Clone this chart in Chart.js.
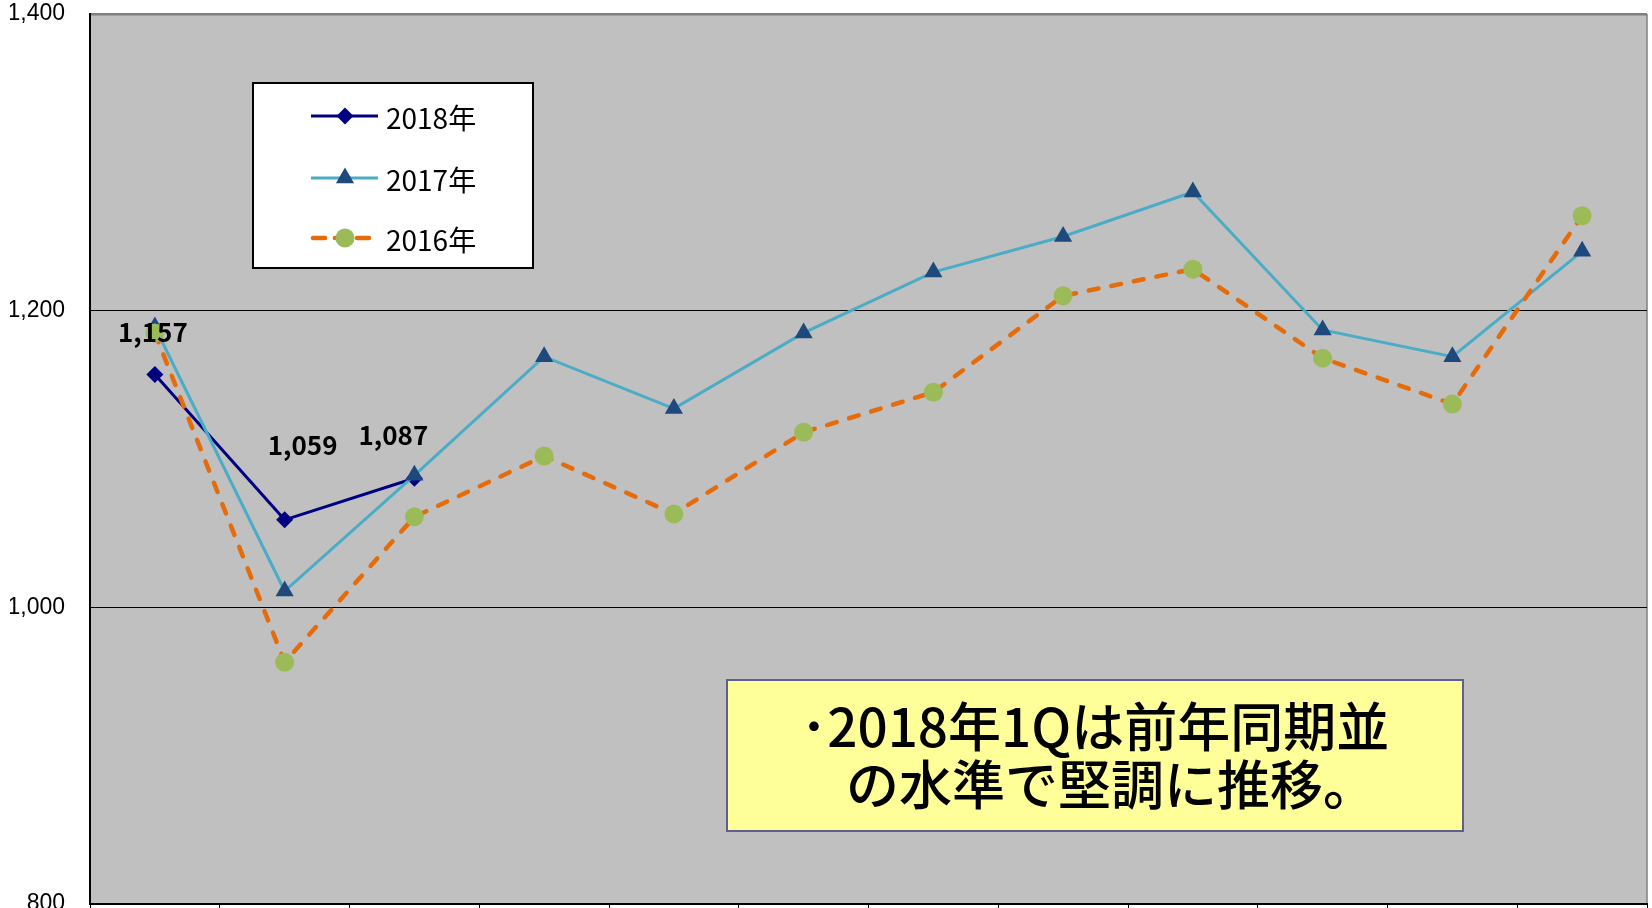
<!DOCTYPE html>
<html lang="ja">
<head>
<meta charset="utf-8">
<title>2016-2018年 推移</title>
<script src="https://cdn.jsdelivr.net/npm/chart.js@4.4.1/dist/chart.umd.min.js"></script>
<style>
  html, body { margin: 0; padding: 0; background: #fff; }
  #wrap { width: 1652px; height: 908px; position: relative; }
</style>
</head>
<body>
<div id="wrap"><canvas id="chart"></canvas></div>
<script>
// categories (x labels are cut off in the picture, so they stay hidden)
const months = ['1月', '2月', '3月', '4月', '5月', '6月', '7月', '8月', '9月', '10月', '11月', '12月'];

// series values
const y2018 = [1157, 1059, 1087, null, null, null, null, null, null, null, null, null];
const y2017 = [1189, 1011, 1089, 1169, 1134, 1185, 1226, 1250, 1280, 1187, 1169, 1240];
const y2016 = [1185, 963, 1061, 1102, 1063, 1118, 1145, 1210, 1228, 1168, 1137, 1264];

// y axis
const yTicks = [800, 1000, 1200, 1400];

const noteLines = ['･2018年1Qは前年同期並', 'の水準で堅調に推移。'];

const jpFont = '"Noto Sans CJK JP", "Noto Sans", sans-serif';

function fmt(v) {
    return Number(v).toLocaleString('en-US');
}

function drawMarker(ctx, style, x, y, r, color) {
    ctx.fillStyle = color;
    ctx.beginPath();
    if (style === 'rectRot') {
        ctx.moveTo(x, y - r);
        ctx.lineTo(x + r, y);
        ctx.lineTo(x, y + r);
        ctx.lineTo(x - r, y);
    } else if (style === 'triangle') {
        ctx.moveTo(x, y - r);
        ctx.lineTo(x + r * Math.sin(Math.PI / 3), y + r / 2);
        ctx.lineTo(x - r * Math.sin(Math.PI / 3), y + r / 2);
    } else {
        ctx.arc(x, y, r, 0, Math.PI * 2);
    }
    ctx.closePath();
    ctx.fill();
}

// grey plot area + thin right edge
const plotArea = {
    id: 'plotArea',
    beforeDraw(chart) {
        const { ctx, chartArea: a } = chart;
        ctx.save();
        ctx.fillStyle = '#c0c0c0';
        ctx.fillRect(a.left, a.top, a.right - a.left, a.bottom - a.top);
        ctx.strokeStyle = '#808080';
        ctx.lineWidth = 1.5;
        ctx.beginPath();
        ctx.moveTo(a.right, a.top);
        ctx.lineTo(a.right, a.bottom);
        ctx.stroke();
        ctx.restore();
    }
};

// value labels on the 2018 points, nudged like in the original
const labelOffsets = [[-2, -42], [18, -75], [-21, -43]];
const pointLabels = {
    id: 'pointLabels',
    afterDatasetsDraw(chart) {
        const ctx = chart.ctx;
        const meta = chart.getDatasetMeta(0);
        ctx.save();
        ctx.font = 'bold 26px ' + jpFont;
        ctx.fillStyle = '#000';
        ctx.textAlign = 'center';
        ctx.textBaseline = 'middle';
        y2018.forEach((v, i) => {
            if (v == null) return;
            const pt = meta.data[i];
            const off = labelOffsets[i] || [0, -40];
            ctx.fillText(fmt(v), pt.x + off[0], pt.y + off[1]);
        });
        ctx.restore();
    }
};

// boxed legend inside the plot
const boxLegend = {
    id: 'boxLegend',
    afterDraw(chart) {
        const ctx = chart.ctx;
        const box = { x: 253, y: 83, w: 280, h: 185 };
        const rows = [116, 178, 238];
        ctx.save();
        ctx.fillStyle = '#fff';
        ctx.fillRect(box.x, box.y, box.w, box.h);
        ctx.strokeStyle = '#000';
        ctx.lineWidth = 2;
        ctx.strokeRect(box.x, box.y, box.w, box.h);

        chart.data.datasets.forEach((ds, i) => {
            const y = rows[i];
            ctx.save();
            ctx.strokeStyle = ds.borderColor;
            ctx.lineWidth = ds.borderWidth;
            ctx.lineCap = ds.borderCapStyle || 'butt';
            ctx.setLineDash(ds.borderDash ? [12, 10] : []);
            ctx.beginPath();
            ctx.moveTo(ds.borderDash ? 313 : 311, y);
            ctx.lineTo(ds.borderDash ? 372 : 378, y);
            ctx.stroke();
            ctx.restore();
            drawMarker(ctx, ds.pointStyle, 345, y, ds.pointRadius, ds.pointBackgroundColor);

            ctx.fillStyle = '#000';
            ctx.font = '28px ' + jpFont;
            ctx.textAlign = 'left';
            ctx.textBaseline = 'middle';
            ctx.fillText(ds.label, 386, y + 2);
        });
        ctx.restore();
    }
};

// yellow comment box
const noteBox = {
    id: 'noteBox',
    afterDraw(chart) {
        const ctx = chart.ctx;
        const b = { x: 727, y: 680, w: 736, h: 151 };
        ctx.save();
        ctx.fillStyle = '#ffff99';
        ctx.fillRect(b.x, b.y, b.w, b.h);
        ctx.strokeStyle = '#5f5f8f';
        ctx.lineWidth = 2;
        ctx.strokeRect(b.x, b.y, b.w, b.h);
        ctx.fillStyle = '#000';
        ctx.font = '500 53px ' + jpFont;
        ctx.textAlign = 'center';
        ctx.textBaseline = 'middle';
        ctx.fillText(noteLines[0], b.x + b.w / 2, 727);
        ctx.fillText(noteLines[1], b.x + b.w / 2 + 16, 785);
        ctx.restore();
    }
};

const ctx = document.getElementById('chart');

var chart = new Chart(ctx, {
    type: 'line',
    data: {
        labels: months,
        datasets: [{
            label: '2018年',
            data: y2018,
            order: 3,
            borderColor: '#000080',
            borderWidth: 3,
            pointStyle: 'rectRot',
            pointRadius: 8.5,
            pointBackgroundColor: '#000080',
            pointBorderWidth: 0,
            spanGaps: false,
        }, {
            label: '2017年',
            data: y2017,
            order: 2,
            borderColor: '#4bacc6',
            borderWidth: 3,
            pointStyle: 'triangle',
            pointRadius: 10.5,
            pointBackgroundColor: '#1f497d',
            pointBorderWidth: 0,
        }, {
            label: '2016年',
            data: y2016,
            order: 1,
            borderColor: '#e46c0a',
            borderWidth: 4.5,
            borderDash: [10, 13],
            borderCapStyle: 'round',
            pointStyle: 'circle',
            pointRadius: 9.5,
            pointBackgroundColor: '#9bbb59',
            pointBorderWidth: 0,
        }]
    },
    options: {
        responsive: true,
        maintainAspectRatio: false,
        animation: false,
        devicePixelRatio: 1,
        layout: {
            autoPadding: false,
            padding: { left: 10, top: 14, right: 5, bottom: 0 }
        },
        elements: {
            line: { tension: 0 }
        },
        plugins: {
            legend: { display: false },
            tooltip: { enabled: false },
        },
        scales: {
            x: {
                offset: true,
                afterFit(s) { s.paddingLeft = 0; s.paddingRight = 0; },
                ticks: { display: false },
                grid: {
                    offset: true,
                    drawOnChartArea: false,
                    drawTicks: true,
                    tickLength: 4,
                    color: '#000',
                    lineWidth: 1,
                },
                border: { color: '#000', width: 2 }
            },
            y: {
                min: yTicks[0],
                max: yTicks[yTicks.length - 1],
                afterFit(s) { s.width = 80; s.paddingTop = 0; s.paddingBottom = 0; },
                afterBuildTicks(s) { s.ticks = yTicks.map(v => ({ value: v })); },
                ticks: {
                    padding: 25,
                    color: '#000',
                    font: { family: 'Arial, "Liberation Sans", sans-serif', size: 23 },
                    callback: v => fmt(v)
                },
                grid: {
                    drawTicks: false,
                    color: c => (c.tick && c.tick.value === 1400) ? '#7f7f7f' : '#000',
                    lineWidth: c => (c.tick && c.tick.value === 1400) ? 2.5 : 1,
                },
                border: { color: '#000', width: 2 }
            }
        }
    },
    plugins: [plotArea, pointLabels, boxLegend, noteBox]
});
</script>
</body>
</html>
